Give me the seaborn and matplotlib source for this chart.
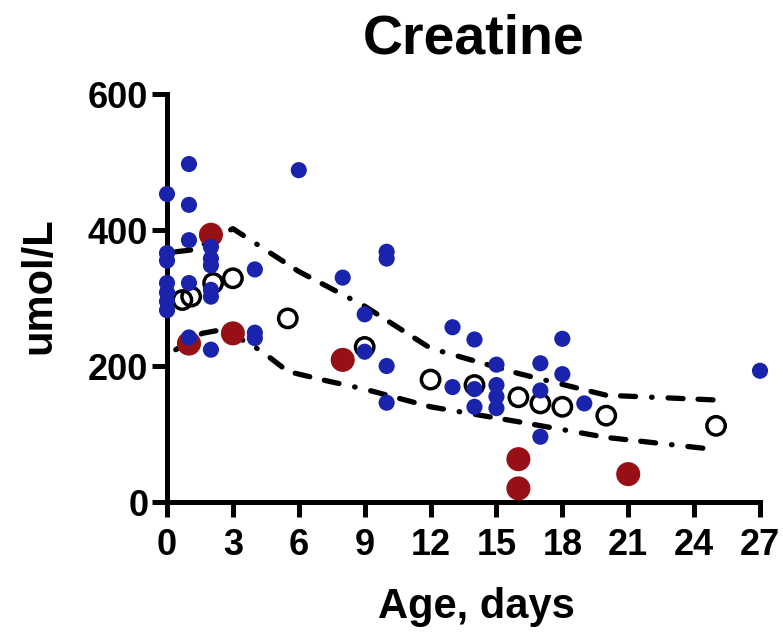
import matplotlib
matplotlib.use("Agg")
import matplotlib.pyplot as plt
from matplotlib.markers import MarkerStyle
import seaborn as sns
import pandas as pd

# Individual patient values (umol/L) by age in days
blue_days = [0, 0, 0, 0, 0, 0, 0,
             1, 1, 1, 1, 1,
             2, 2, 2, 2, 2, 2,
             4, 4, 4,
             6, 8, 9, 9,
             10, 10, 10, 10,
             13, 13, 14, 14, 14,
             15, 15, 15, 15,
             17, 17, 17, 18, 18, 19, 27]
blue_vals = [453, 366, 355, 322, 308, 295, 282,
             497, 437, 385, 322, 242,
             375, 358, 348, 312, 302, 224,
             342, 249, 241,
             488, 330, 276, 221,
             368, 358, 200, 146,
             257, 169, 239, 166, 140,
             202, 172, 155, 138,
             204, 164, 96, 240, 188, 145, 193]

# Affected patients
red_days = [1, 2, 3, 8, 16, 16, 21]
red_vals = [233, 393, 248, 209, 63, 20, 41]

# Mean values
mean_days = [0.7, 1.1, 2.1, 3, 5.5, 9, 12, 14, 16, 17, 18, 20, 25]
mean_vals = [297, 302, 322, 329, 270, 228, 180, 172, 154, 145, 140, 127, 112]

# Reference range bounds
upper_days = [0.4, 1.2, 3, 6, 9, 12, 16, 20, 25]
upper_vals = [368, 371, 402, 339, 288, 226, 189, 157, 150]
lower_days = [0.4, 1.6, 2.6, 4.3, 5.5, 7.3, 9, 12, 16, 20, 25]
lower_vals = [224, 248, 254, 222, 192, 178, 166, 140, 118, 95, 77]

x_ticks = [0, 3, 6, 9, 12, 15, 18, 21, 24, 27]
y_ticks = [0, 200, 400, 600]

sns.set_style("white")
plt.rcParams["font.family"] = ["Liberation Sans", "DejaVu Sans"]
plt.rcParams["font.weight"] = "bold"
plt.rcParams["lines.scale_dashes"] = False
for key in ("text.color", "axes.labelcolor", "xtick.color", "ytick.color"):
    plt.rcParams[key] = "black"

fig = plt.figure(figsize=(7.83, 6.32), dpi=100)
ax = fig.add_axes([167 / 783, 1 - 502 / 632, 593 / 783, 408 / 632])

# dash-dash-dash-dot pattern
pattern = (0, (10.8, 10.8, 10.8, 10.8, 10.8, 11.5, 0.4, 11.5))
upper = pd.DataFrame({"day": upper_days, "val": upper_vals})
lower = pd.DataFrame({"day": lower_days, "val": lower_vals})
for df in (upper, lower):
    sns.lineplot(data=df, x="day", y="val", ax=ax, sort=False, estimator=None,
                 color="black", linewidth=3.8, linestyle=pattern,
                 dash_capstyle="round", zorder=2)

sns.scatterplot(x=red_days, y=red_vals, ax=ax, s=300, color="#961016",
                linewidth=0, edgecolor="none", clip_on=False, zorder=3)
ring = MarkerStyle("o", fillstyle="none")
sns.scatterplot(x=mean_days, y=mean_vals, ax=ax, s=175, marker=ring,
                color="black", linewidth=2.5, clip_on=False, zorder=4)
sns.scatterplot(x=blue_days, y=blue_vals, ax=ax, s=135, color="#1a23ac",
                linewidth=0, edgecolor="none", clip_on=False, zorder=5)

ax.set_xlim(0, 27)
ax.set_ylim(0, 600)
ax.set_xticks(x_ticks)
ax.set_yticks(y_ticks)
ax.set_xticklabels([str(t) for t in x_ticks])
ax.set_yticklabels([str(t) for t in y_ticks])
for side in ("top", "right"):
    ax.spines[side].set_visible(False)
for side in ("left", "bottom"):
    ax.spines[side].set_linewidth(3.6)
    ax.spines[side].set_color("black")
    ax.spines[side].set_capstyle("projecting")
ax.tick_params(axis="both", which="major", direction="out", length=10.5,
               width=3.6, color="black", labelcolor="black", labelsize=26,
               bottom=True, left=True)
ax.tick_params(axis="x", pad=8)
ax.tick_params(axis="y", pad=3)
for lab in ax.get_xticklabels() + ax.get_yticklabels():
    lab.set_fontweight("bold")

ax.set_xlabel("Age, days", fontsize=30, fontweight="bold", va="baseline",
              color="black")
ax.xaxis.set_label_coords((476 - 167) / 593, (502 - 618) / 408)
ax.set_ylabel("umol/L", fontsize=30, fontweight="bold", va="baseline",
              color="black")
ax.yaxis.set_label_coords((50 - 167) / 593, (502 - 286) / 408)

fig.text(474 / 783, 1 - 53 / 632, "Creatine", fontsize=40, fontweight="bold",
         ha="center", va="baseline", color="black")

fig.savefig("out.png", dpi=100)
